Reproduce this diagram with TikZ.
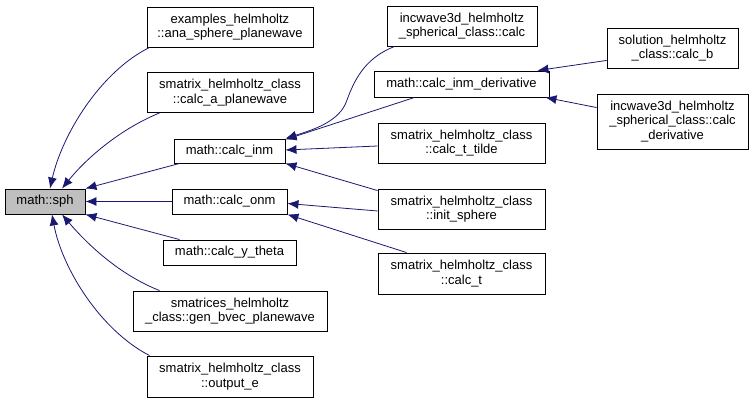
\documentclass[tikz,border=0pt]{standalone}
\usepackage{fontspec}
\setmainfont{Liberation Sans}
\usetikzlibrary{arrows.meta}
\definecolor{edgeblue}{RGB}{25,25,112}
\definecolor{rootgray}{RGB}{191,191,191}
\tikzset{
  fn/.style={draw=black, line width=0.9pt, align=center, inner sep=0pt,
    font=\fontsize{13}{14.5}\selectfont},
  call/.style={->, edgeblue, line width=0.8pt}
}
\begin{document}
\begin{tikzpicture}[x=1pt,y=-1pt,>={Latex[length=11pt,width=9pt]}]
\useasboundingbox (0,0) rectangle (753,403);
% root
\node[fn, fill=rootgray, minimum width=80, minimum height=25] (sph) at (45,201.5) {math::sph};
% first column
\node[fn, minimum width=166, minimum height=40] (ana) at (230,27) {examples\_helmholtz\\::ana\_sphere\_planewave};
\node[fn, minimum width=166, minimum height=40] (cap) at (230,92.5) {smatrix\_helmholtz\_class\\::calc\_a\_planewave};
\node[fn, minimum width=111, minimum height=24] (inm) at (229.5,151) {math::calc\_inm};
\node[fn, minimum width=115, minimum height=25] (onm) at (229.5,201.5) {math::calc\_onm};
\node[fn, minimum width=133, minimum height=25] (yth) at (229.5,252.5) {math::calc\_y\_theta};
\node[fn, minimum width=194, minimum height=40] (gbv) at (230,311) {smatrices\_helmholtz\\\_class::gen\_bvec\_planewave};
\node[fn, minimum width=166, minimum height=41] (oute) at (230,376.5) {smatrix\_helmholtz\_class\\::output\_e};
% second column
\node[fn, minimum width=150, minimum height=40] (icalc) at (462,26) {incwave3d\_helmholtz\\\_spherical\_class::calc};
\node[fn, minimum width=175, minimum height=26] (der) at (461.5,84) {math::calc\_inm\_derivative};
\node[fn, minimum width=167, minimum height=40] (tt) at (461.5,143) {smatrix\_helmholtz\_class\\::calc\_t\_tilde};
\node[fn, minimum width=167, minimum height=40] (is) at (461.5,209) {smatrix\_helmholtz\_class\\::init\_sphere};
\node[fn, minimum width=167, minimum height=41] (ct) at (461.5,273.5) {smatrix\_helmholtz\_class\\::calc\_t};
% third column
\node[fn, minimum width=131, minimum height=40] (cb) at (672.5,48) {solution\_helmholtz\\\_class::calc\_b};
\node[fn, minimum width=151, minimum height=55] (cd) at (672.5,121.5) {incwave3d\_helmholtz\\\_spherical\_class::calc\\\_derivative};
% calls into math::sph
\draw[call] ([xshift=3]ana.south west) .. controls (100,72) and (62,135) .. ([xshift=5]sph.north);
\draw[call] ([xshift=13]cap.south west) .. controls (118,130) and (85,160) .. ([xshift=17]sph.north);
\draw[call] ([xshift=6]inm.south west) -- (sph.north east);
\draw[call] (onm.west) -- (sph.east);
\draw[call] ([xshift=17]yth.north west) -- (sph.south east);
\draw[call] ([xshift=27]gbv.north west) .. controls (120,275) and (88,245) .. ([xshift=17]sph.south);
\draw[call] ([xshift=3]oute.north west) .. controls (100,330) and (62,268) .. ([xshift=7]sph.south);
% calls into the second level
\draw[call] ([xshift=8]icalc.south west) .. controls (368,57) and (356,75) .. (347,100)
  .. controls (340,122) and (312,130) .. (inm.north east);
\draw[call] ([xshift=41]der.south west) -- ([yshift=-1]inm.north east);
\draw[call] ([yshift=-3]tt.west) -- ([yshift=1]inm.east);
\draw[call] ([yshift=-2]is.north west) -- (inm.south east);
\draw[call] ([yshift=-2]is.west) -- ([yshift=-2]onm.east);
\draw[call] ([xshift=29]ct.north west) -- (onm.south east);
\draw[call] ([yshift=8]cb.south west) -- ([xshift=-12]der.north east);
\draw[call] ([yshift=-14]cd.north west) -- ([xshift=-4]der.south east);
\end{tikzpicture}
\end{document}
